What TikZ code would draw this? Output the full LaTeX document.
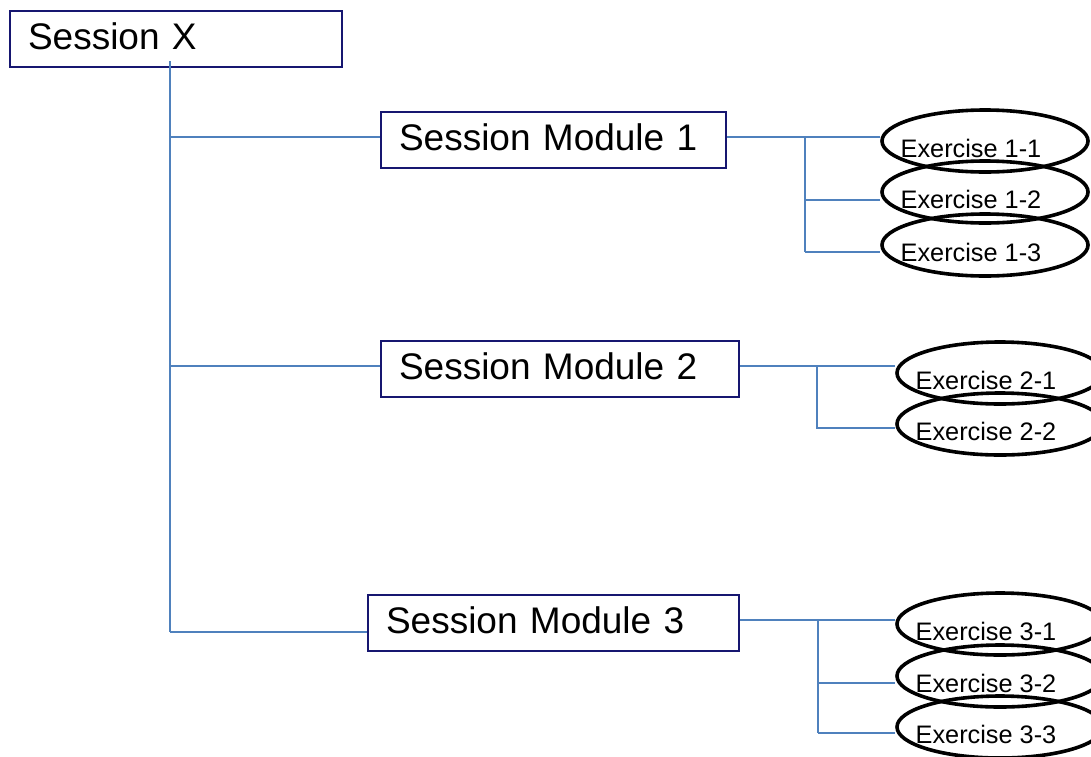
\documentclass[tikz,border=0pt]{standalone}
\usepackage{fontspec}
\setmainfont{Liberation Sans}
\usetikzlibrary{shapes.geometric}
\definecolor{conn}{RGB}{79,129,189}
\definecolor{navy}{RGB}{22,22,112}
\newcommand{\extext}[1]{\raisebox{-16pt}{\makebox[0pt]{\hspace*{-28pt}#1}}}
\tikzset{
  boxnode/.style={draw=navy, line width=2pt, rectangle, anchor=north west,
    minimum height=56pt, inner xsep=18pt, inner ysep=0pt, align=left,
    text depth=5pt, font=\fontsize{37}{40}\selectfont},
  exnode/.style={draw=black, line width=3.6pt, ellipse, minimum width=206pt,
    minimum height=62pt, inner sep=0pt, text height=0pt, text depth=0pt,
    font=\fontsize{25.3}{28}\selectfont},
  link/.style={draw=conn, line width=1.5pt}
}
\begin{document}
\begin{tikzpicture}[x=1pt,y=-1pt]
\useasboundingbox (0,0) rectangle (1091,756);
% boxes
\node[boxnode, text width=296pt] (sx) at (9,10) {Session X};
\node[boxnode, text width=309pt] (m1) at (380,111) {Session Module 1};
\node[boxnode, text width=322pt] (m2) at (380,340) {Session Module 2};
\node[boxnode, text width=335pt] (m3) at (367,594) {Session Module 3};
% ellipses
\node[exnode] (e11) at (985,141) {\extext{Exercise 1-1}};
\node[exnode] (e12) at (985,192) {\extext{Exercise 1-2}};
\node[exnode] (e13) at (985,245) {\extext{Exercise 1-3}};
\node[exnode] (e21) at (1000,373) {\extext{Exercise 2-1}};
\node[exnode] (e22) at (1000,424) {\extext{Exercise 2-2}};
\node[exnode] (e31) at (1000,624) {\extext{Exercise 3-1}};
\node[exnode] (e32) at (1000,676) {\extext{Exercise 3-2}};
\node[exnode] (e33) at (1000,727) {\extext{Exercise 3-3}};
% trunk coordinates
\coordinate (t0) at (170,61);
\coordinate (t1) at (170,137);
\coordinate (t2) at (170,366);
\coordinate (t3) at (170,632);
\draw[link] (t0) -- (t3);
\draw[link] (t1) -- (t1 -| m1.west);
\draw[link] (t2) -- (t2 -| m2.west);
\draw[link] (t3) -- (t3 -| m3.west);
% module 1 branches
\coordinate (j1) at (805,137);
\coordinate (k12) at (805,200);
\coordinate (k13) at (805,252);
\draw[link] (j1 -| m1.east) -- (j1 -| e11.west);
\draw[link] (j1) -- (k13);
\draw[link] (k12) -- (k12 -| e12.west);
\draw[link] (k13) -- (k13 -| e13.west);
% module 2 branches
\coordinate (j2) at (817,366);
\coordinate (k22) at (817,428);
\draw[link] (j2 -| m2.east) -- (j2 -| e21.west);
\draw[link] (j2) -- (k22) -- (k22 -| e22.west);
% module 3 branches
\coordinate (j3) at (818,620);
\coordinate (k32) at (818,683);
\coordinate (k33) at (818,733);
\draw[link] (j3 -| m3.east) -- (j3 -| e31.west);
\draw[link] (j3) -- (k33);
\draw[link] (k32) -- (k32 -| e32.west);
\draw[link] (k33) -- (k33 -| e33.west);
\end{tikzpicture}
\end{document}
